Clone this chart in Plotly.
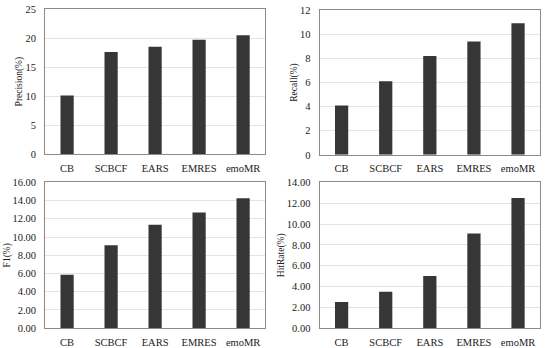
import plotly.graph_objects as go
from plotly.subplots import make_subplots

categories = ["CB", "SCBCF", "EARS", "EMRES", "emoMR"]
precision = [10.1, 17.6, 18.5, 19.7, 20.5]
recall = [4.1, 6.1, 8.2, 9.4, 10.9]
f1 = [5.85, 9.1, 11.35, 12.7, 14.25]
hitrate = [2.5, 3.5, 5.0, 9.1, 12.5]

panels = [
    (precision, "Precision(%)", [0, 25], 5, "d"),
    (recall, "Recall(%)", [0, 12], 2, "d"),
    (f1, "F1(%)", [0, 16], 2, ".2f"),
    (hitrate, "HitRate(%)", [0, 14], 2, ".2f"),
]

fig = make_subplots(rows=2, cols=2)
font = "Liberation Serif, Times New Roman, serif"

for i, (vals, title, rng, dt, fmt) in enumerate(panels):
    r, c = i // 2 + 1, i % 2 + 1
    fig.add_trace(go.Bar(x=categories, y=vals, marker_color="#363636",
                         marker_line_width=0, width=0.3, showlegend=False), row=r, col=c)
    fig.update_yaxes(range=rng, dtick=dt, tickformat=fmt, title_text=title,
                     title_font=dict(family=font, size=9.5, color="#222"),
                     tickfont=dict(family=font, size=10.5, color="#222"),
                     showgrid=True, gridcolor="#e4e4e4", gridwidth=1,
                     showline=True, linecolor="#8a8a8a", linewidth=1, mirror=True,
                     ticks="", ticklabelstandoff=6, title_standoff=0, zeroline=False,
                     automargin=False, row=r, col=c)
    fig.update_xaxes(tickfont=dict(family=font, size=10.5, color="#222"),
                     showline=True, linecolor="#8a8a8a", linewidth=1, mirror=True,
                     ticks="", ticklabelstandoff=4, automargin=False, row=r, col=c)

# domains
fig.update_layout(
    xaxis=dict(domain=[0.082, 0.482]),
    xaxis2=dict(domain=[0.581, 0.982]),
    xaxis3=dict(domain=[0.082, 0.482]),
    xaxis4=dict(domain=[0.581, 0.982]),
    yaxis=dict(domain=[0.557, 0.974]),
    yaxis2=dict(domain=[0.555, 0.971]),
    yaxis3=dict(domain=[0.057, 0.476]),
    yaxis4=dict(domain=[0.057, 0.476]),
    width=550, height=348,
    margin=dict(l=0, r=0, t=0, b=0),
    paper_bgcolor="white", plot_bgcolor="white",
    bargap=0.7,
)

fig.write_html("out.html", config={"displayModeBar": False},
               post_script="document.body.style.margin='0';document.body.style.overflow='hidden';")
